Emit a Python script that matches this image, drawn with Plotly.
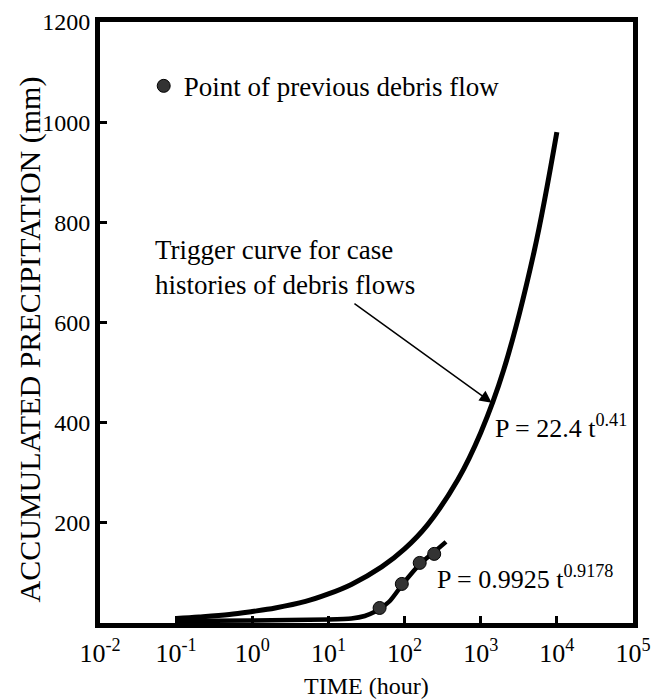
import plotly.graph_objects as go
import numpy as np

# Trigger curve
trig_t = [0.1, 0.2, 0.5, 1, 2, 5, 10, 20, 50, 100, 200, 500, 1000, 2000, 5000, 10000]
trig_p = [9, 12, 17, 23, 30, 43, 58, 77, 112, 148, 196, 286, 380, 505, 740, 980]

# Lower fitted curve
low_t = [0.1, 1, 10, 20, 30, 40, 50, 65, 95, 160, 250, 350]
low_p = [4, 5, 7, 9, 14, 22, 31, 45, 78, 118, 143, 162]

# Points of previous debris flow
pts_t = [47, 92, 158, 245]
pts_p = [30, 78, 120, 138]

x_tickvals = [1e-2, 1e-1, 1e0, 1e1, 1e2, 1e3, 1e4, 1e5]
x_ticktext = ["10<sup>-2</sup>", "10<sup>-1</sup>", "10<sup>0</sup>", "10<sup>1</sup>",
              "10<sup>2</sup>", "10<sup>3</sup>", "10<sup>4</sup>", "10<sup>5</sup>"]
y_tickvals = [200, 400, 600, 800, 1000, 1200]

FONT = "Liberation Serif, Times New Roman, serif"

fig = go.Figure()
fig.add_trace(go.Scatter(x=trig_t, y=trig_p, mode="lines", line=dict(color="black", width=5),
                         showlegend=False, line_shape="spline"))
fig.add_trace(go.Scatter(x=low_t, y=low_p, mode="lines", line=dict(color="black", width=4.5),
                         showlegend=False, line_shape="spline", line_smoothing=0.6))
fig.add_trace(go.Scatter(x=pts_t, y=pts_p, mode="markers", name="Point of previous debris flow",
                         marker=dict(symbol="circle", size=13, color="#333333",
                                     line=dict(color="black", width=1))))

fig.update_layout(
    width=668, height=700,
    margin=dict(l=100, r=35, t=22, b=77),
    paper_bgcolor="white", plot_bgcolor="white",
    font=dict(family=FONT, size=24, color="black"),
    showlegend=True,
    legend=dict(x=0.082, y=0.893, xanchor="left", yanchor="middle",
                bgcolor="rgba(0,0,0,0)", font=dict(size=27, family=FONT)),
    xaxis=dict(type="log", range=[-2, 5], showline=True, linewidth=5, linecolor="black",
               mirror=True, ticks="inside", ticklen=7, tickwidth=3, tickcolor="black",
               tickvals=x_tickvals, ticktext=x_ticktext, showgrid=False, zeroline=False,
               automargin=False,
               tickfont=dict(size=26, family=FONT), ticklabelstandoff=3),
    yaxis=dict(range=[0, 1200], showline=True, linewidth=5, linecolor="black",
               mirror=True, ticks="inside", ticklen=7, tickwidth=3, tickcolor="black",
               tickvals=y_tickvals, showgrid=False, zeroline=False,
               automargin=False,
               tickfont=dict(size=24, family=FONT), ticklabelstandoff=0),
)

# axis titles placed explicitly
fig.add_annotation(x=0.5, y=-0.105, xref="paper", yref="paper", text="TIME (hour)",
                   showarrow=False, xanchor="center", yanchor="middle",
                   font=dict(size=24, family=FONT))
fig.add_annotation(x=-0.131, y=0.472, xref="paper", yref="paper",
                   text="ACCUMULATED PRECIPITATION (mm)", textangle=-90,
                   showarrow=False, xanchor="center", yanchor="middle",
                   font=dict(size=30, family=FONT))

fig.add_annotation(x=np.log10(0.05), y=710, xref="x", yref="y",
                   text="Trigger curve for case<br>histories of debris flows",
                   showarrow=False, xanchor="left", yanchor="middle", align="left",
                   font=dict(size=27, family=FONT))
fig.add_annotation(x=np.log10(1393), y=440, ax=np.log10(21), ay=640,
                   xref="x", yref="y", axref="x", ayref="y", text="",
                   showarrow=True, arrowhead=2, arrowsize=1.6, arrowwidth=1.5, arrowcolor="black")
fig.add_annotation(x=np.log10(1430), y=392, xref="x", yref="y",
                   text="P = 22.4 t<sup>0.41</sup>", showarrow=False,
                   xanchor="left", yanchor="middle", font=dict(size=26, family=FONT))
fig.add_annotation(x=np.log10(249), y=90, xref="x", yref="y",
                   text="P = 0.9925 t<sup>0.9178</sup>", showarrow=False,
                   xanchor="left", yanchor="middle", font=dict(size=26, family=FONT))

fig.write_html("out.html", config={"displayModeBar": False},
               post_script="document.body.style.margin='0';document.body.style.padding='0';")
